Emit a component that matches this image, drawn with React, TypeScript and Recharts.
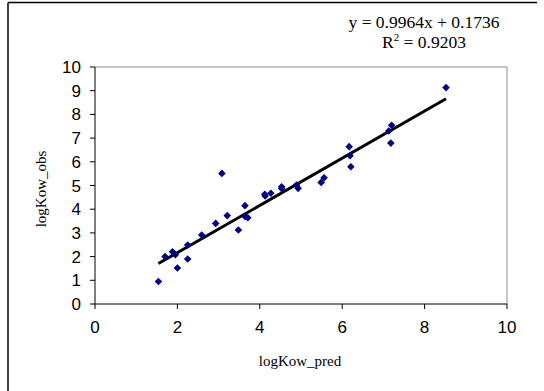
import React from "react";
import {
  ScatterChart,
  Scatter,
  XAxis,
  YAxis,
  ReferenceLine,
  Customized,
} from "recharts";

const predValues = [
  1.54, 1.7, 1.88, 1.95, 2.0, 2.25, 2.25, 2.59, 2.93, 3.08, 3.21, 3.48, 3.64,
  3.64, 3.71, 4.12, 4.13, 4.27, 4.53, 4.53, 4.89, 4.93, 5.49, 5.56, 6.17, 6.19,
  6.21, 7.13, 7.2, 7.18, 8.52,
];
const obsValues = [
  0.95, 2.0, 2.2, 2.08, 1.52, 1.9, 2.49, 2.91, 3.4, 5.51, 3.73, 3.12, 4.15,
  3.69, 3.64, 4.63, 4.56, 4.67, 4.95, 4.87, 5.02, 4.88, 5.13, 5.33, 6.64, 6.26,
  5.79, 7.3, 7.54, 6.79, 9.13,
];
const xTicks = [0, 2, 4, 6, 8, 10];
const yTicks = [0, 1, 2, 3, 4, 5, 6, 7, 8, 9, 10];
const slope = 0.9964;
const intercept = 0.1736;
const equationText = "y = 0.9964x + 0.1736";
const r2Value = "0.9203";
const xTitle = "logKow_pred";
const yTitle = "logKow_obs";

const points = predValues.map((x, i) => ({ x, y: obsValues[i] }));
const xMin = Math.min(...predValues);
const xMax = Math.max(...predValues);
const trendSegment = [
  { x: xMin, y: slope * xMin + intercept },
  { x: xMax, y: slope * xMax + intercept },
];

const Diamond = (props: any) => {
  const { cx, cy } = props;
  const r = 3.8;
  return (
    <polygon
      points={`${cx},${cy - r} ${cx + r},${cy} ${cx},${cy + r} ${cx - r},${cy}`}
      fill="#000080"
      stroke="none"
    />
  );
};

const tickStyle = {
  fontFamily: "'Liberation Sans', Arial, sans-serif",
  fontSize: 17,
  fill: "#000",
};

const serif = "'Liberation Serif', 'Times New Roman', serif";

const Overlay = () => (
  <g>
    <line x1={8} y1={2.5} x2={537} y2={2.5} stroke="#000" strokeWidth={1.3} />
    <line x1={8} y1={2.5} x2={8} y2={391} stroke="#000" strokeWidth={1.5} />
    <text
      x={424}
      y={27.5}
      textAnchor="middle"
      fontFamily={serif}
      fontSize={17.5}
      fill="#000"
    >
      {equationText}
    </text>
    <text
      x={424}
      y={47.5}
      textAnchor="middle"
      fontFamily={serif}
      fontSize={17.5}
      fill="#000"
    >
      R
      <tspan fontSize={11} dy={-7}>
        2
      </tspan>
      <tspan dy={7}>{` = ${r2Value}`}</tspan>
    </text>
    <text
      x={300}
      y={366}
      textAnchor="middle"
      fontFamily={serif}
      fontSize={15}
      fill="#000"
    >
      {xTitle}
    </text>
    <text
      transform="translate(46,189) rotate(-90)"
      textAnchor="middle"
      fontFamily={serif}
      fontSize={15}
      fill="#000"
    >
      {yTitle}
    </text>
  </g>
);

export default function App() {
  return (
    <div
      style={{
        position: "absolute",
        left: 0,
        top: 0,
        width: 544,
        height: 391,
        background: "#fff",
      }}
    >
      <ScatterChart
        width={544}
        height={391}
        margin={{ top: 67, right: 37, bottom: 57, left: 35 }}
      >
        <XAxis
          type="number"
          dataKey="x"
          domain={[0, 10]}
          ticks={xTicks}
          interval={0}
          height={30}
          tickSize={5}
          tickMargin={12}
          tick={tickStyle}
          axisLine={{ stroke: "#000", strokeWidth: 1 }}
          tickLine={{ stroke: "#000" }}
          allowDataOverflow
        />
        <YAxis
          type="number"
          dataKey="y"
          domain={[0, 10]}
          ticks={yTicks}
          interval={0}
          width={60}
          tickSize={5}
          tickMargin={9}
          tick={tickStyle}
          axisLine={{ stroke: "#000", strokeWidth: 1 }}
          tickLine={{ stroke: "#000" }}
          allowDataOverflow
        />
        <ReferenceLine y={10} stroke="#8c8c8c" strokeWidth={1} />
        <ReferenceLine x={10} stroke="#8c8c8c" strokeWidth={1} />
        <Scatter data={points} shape={Diamond} isAnimationActive={false} />
        <ReferenceLine segment={trendSegment} stroke="#000" strokeWidth={3} />
        <Customized component={Overlay} />
      </ScatterChart>
    </div>
  );
}
